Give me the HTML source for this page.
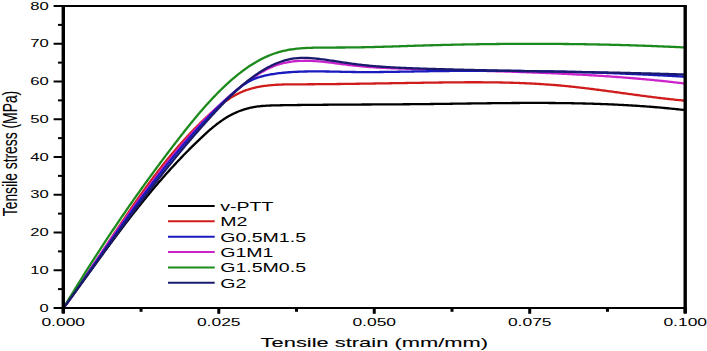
<!DOCTYPE html>
<html><head><meta charset="utf-8"><style>
html,body{margin:0;padding:0;background:#fff;}
svg{display:block;}
text{font-family:"Liberation Sans",sans-serif;fill:#000;stroke:#000;stroke-width:0.1px;}
</style></head><body>
<svg width="707" height="351" viewBox="0 0 707 351">
<rect width="707" height="351" fill="#fff"/>
<path d="M63.50,308.00 L64.36,306.83 L65.22,305.65 L66.09,304.48 L66.94,303.31 L67.80,302.14 L68.66,300.97 L69.51,299.80 L70.37,298.63 L71.22,297.46 L72.07,296.29 L72.92,295.12 L73.77,293.95 L74.62,292.79 L75.47,291.62 L76.31,290.46 L77.16,289.29 L78.00,288.13 L78.85,286.96 L79.69,285.80 L80.53,284.64 L81.37,283.48 L82.21,282.32 L83.05,281.16 L83.89,280.00 L84.73,278.84 L85.57,277.69 L86.41,276.53 L87.24,275.37 L88.08,274.22 L88.92,273.07 L89.75,271.91 L90.59,270.76 L91.42,269.61 L92.26,268.46 L93.09,267.31 L93.93,266.16 L94.76,265.01 L95.59,263.86 L96.43,262.72 L97.26,261.57 L98.09,260.42 L98.93,259.28 L99.76,258.14 L100.60,256.99 L101.43,255.85 L102.26,254.71 L103.10,253.57 L103.93,252.43 L104.77,251.30 L105.60,250.16 L106.44,249.02 L107.27,247.89 L108.11,246.75 L108.94,245.62 L109.78,244.49 L110.62,243.36 L111.45,242.23 L112.29,241.10 L113.13,239.97 L113.97,238.84 L114.81,237.72 L115.65,236.59 L116.49,235.47 L117.33,234.34 L118.18,233.22 L119.02,232.10 L119.86,230.98 L120.71,229.86 L121.56,228.74 L122.40,227.63 L123.25,226.51 L124.10,225.40 L124.95,224.28 L125.80,223.17 L126.66,222.06 L127.51,220.95 L128.36,219.84 L129.22,218.73 L130.08,217.62 L130.94,216.52 L131.80,215.41 L132.66,214.31 L133.52,213.21 L134.39,212.10 L135.25,211.00 L136.12,209.91 L136.99,208.81 L137.86,207.71 L138.73,206.62 L139.61,205.52 L140.48,204.43 L141.36,203.34 L142.24,202.25 L143.12,201.16 L144.00,200.07 L144.89,198.98 L145.78,197.90 L146.66,196.81 L147.56,195.73 L148.45,194.65 L149.34,193.57 L150.24,192.49 L151.14,191.41 L152.04,190.33 L152.94,189.26 L153.85,188.18 L154.76,187.11 L155.67,186.04 L156.58,184.97 L157.50,183.90 L158.41,182.83 L159.33,181.76 L160.25,180.70 L161.18,179.64 L162.11,178.57 L163.04,177.51 L163.97,176.45 L164.90,175.40 L165.84,174.34 L166.78,173.29 L167.73,172.23 L168.67,171.18 L169.62,170.13 L170.57,169.08 L171.53,168.03 L172.49,166.99 L173.45,165.94 L174.41,164.90 L175.38,163.85 L176.35,162.81 L177.32,161.77 L178.30,160.74 L179.28,159.70 L180.26,158.67 L181.24,157.63 L182.23,156.60 L183.23,155.57 L184.22,154.54 L185.22,153.52 L186.22,152.49 L187.23,151.47 L188.24,150.44 L189.25,149.42 L190.27,148.40 L191.29,147.39 L192.31,146.37 L193.34,145.36 L194.37,144.34 L195.41,143.33 L196.45,142.32 L197.49,141.31 L198.54,140.31 L199.59,139.30 L200.64,138.30 L201.70,137.30 L202.76,136.30 L203.83,135.31 L204.90,134.33 L205.98,133.34 L207.06,132.37 L208.15,131.40 L209.24,130.44 L210.34,129.49 L211.45,128.55 L212.56,127.62 L213.68,126.70 L214.80,125.79 L215.93,124.90 L217.07,124.02 L218.22,123.15 L219.37,122.30 L220.53,121.46 L221.70,120.64 L222.87,119.84 L224.06,119.05 L225.25,118.29 L226.45,117.54 L227.66,116.81 L228.88,116.11 L230.10,115.42 L231.34,114.76 L232.59,114.12 L233.84,113.51 L235.11,112.92 L236.38,112.35 L237.66,111.80 L238.95,111.28 L240.25,110.79 L241.56,110.32 L242.88,109.87 L244.20,109.44 L245.54,109.04 L246.88,108.66 L248.22,108.31 L249.58,107.97 L250.94,107.67 L252.31,107.38 L253.68,107.12 L255.06,106.88 L256.45,106.67 L257.84,106.48 L259.24,106.30 L260.64,106.15 L262.05,106.01 L263.46,105.89 L264.88,105.79 L266.29,105.69 L267.72,105.62 L269.14,105.55 L270.57,105.49 L272.00,105.44 L273.43,105.40 L274.86,105.36 L276.30,105.33 L277.73,105.31 L279.16,105.28 L280.60,105.26 L282.03,105.24 L283.47,105.21 L284.90,105.19 L286.34,105.17 L287.77,105.15 L289.20,105.13 L290.64,105.11 L292.07,105.09 L293.50,105.07 L294.93,105.05 L296.37,105.04 L297.80,105.02 L299.23,105.00 L300.66,104.98 L302.10,104.97 L303.53,104.95 L304.96,104.94 L306.39,104.92 L307.82,104.91 L309.25,104.89 L310.69,104.88 L312.12,104.86 L313.55,104.85 L314.98,104.84 L316.41,104.82 L317.84,104.81 L319.27,104.80 L320.70,104.79 L322.13,104.78 L323.56,104.76 L324.99,104.75 L326.42,104.74 L327.85,104.73 L329.28,104.72 L330.71,104.71 L332.14,104.70 L333.56,104.69 L334.99,104.68 L336.42,104.67 L337.85,104.66 L339.28,104.65 L340.71,104.64 L342.14,104.63 L343.57,104.63 L344.99,104.62 L346.42,104.61 L347.85,104.60 L349.28,104.59 L350.71,104.58 L352.13,104.58 L353.56,104.57 L354.99,104.56 L356.42,104.55 L357.84,104.54 L359.27,104.54 L360.70,104.53 L362.13,104.52 L363.55,104.51 L364.98,104.51 L366.41,104.50 L367.84,104.49 L369.26,104.48 L370.69,104.48 L372.12,104.47 L373.54,104.46 L374.97,104.45 L376.40,104.44 L377.83,104.44 L379.25,104.43 L380.68,104.42 L382.11,104.41 L383.53,104.40 L384.96,104.40 L386.39,104.39 L387.81,104.38 L389.24,104.37 L390.67,104.36 L392.09,104.35 L393.52,104.34 L394.95,104.33 L396.37,104.32 L397.80,104.31 L399.23,104.30 L400.65,104.29 L402.08,104.28 L403.51,104.27 L404.93,104.26 L406.36,104.25 L407.79,104.24 L409.21,104.23 L410.64,104.22 L412.07,104.20 L413.49,104.19 L414.92,104.18 L416.35,104.17 L417.77,104.15 L419.20,104.14 L420.63,104.12 L422.06,104.11 L423.48,104.09 L424.91,104.08 L426.34,104.06 L427.76,104.05 L429.19,104.03 L430.62,104.02 L432.05,104.00 L433.47,103.98 L434.90,103.96 L436.33,103.95 L437.76,103.93 L439.18,103.91 L440.61,103.89 L442.04,103.87 L443.47,103.86 L444.89,103.84 L446.32,103.82 L447.75,103.80 L449.18,103.78 L450.60,103.76 L452.03,103.74 L453.46,103.72 L454.89,103.70 L456.32,103.68 L457.74,103.66 L459.17,103.64 L460.60,103.62 L462.03,103.60 L463.45,103.58 L464.88,103.56 L466.31,103.54 L467.74,103.52 L469.17,103.50 L470.60,103.48 L472.02,103.46 L473.45,103.45 L474.88,103.43 L476.31,103.41 L477.74,103.39 L479.16,103.37 L480.59,103.35 L482.02,103.33 L483.45,103.32 L484.88,103.30 L486.31,103.28 L487.73,103.26 L489.16,103.25 L490.59,103.23 L492.02,103.21 L493.45,103.20 L494.87,103.18 L496.30,103.17 L497.73,103.15 L499.16,103.14 L500.59,103.12 L502.02,103.11 L503.44,103.09 L504.87,103.08 L506.30,103.07 L507.73,103.06 L509.16,103.05 L510.59,103.03 L512.01,103.02 L513.44,103.01 L514.87,103.00 L516.30,103.00 L517.73,102.99 L519.15,102.98 L520.58,102.97 L522.01,102.97 L523.44,102.96 L524.87,102.96 L526.29,102.95 L527.72,102.95 L529.15,102.94 L530.58,102.94 L532.01,102.94 L533.43,102.94 L534.86,102.94 L536.29,102.94 L537.72,102.94 L539.15,102.94 L540.57,102.94 L542.00,102.95 L543.43,102.95 L544.86,102.96 L546.28,102.97 L547.71,102.97 L549.14,102.98 L550.57,102.99 L552.00,103.00 L553.42,103.01 L554.85,103.02 L556.28,103.03 L557.71,103.05 L559.13,103.06 L560.56,103.08 L561.99,103.10 L563.41,103.11 L564.84,103.13 L566.27,103.15 L567.70,103.17 L569.12,103.20 L570.55,103.22 L571.98,103.24 L573.40,103.27 L574.83,103.30 L576.26,103.32 L577.68,103.35 L579.11,103.38 L580.54,103.42 L581.96,103.45 L583.39,103.48 L584.82,103.52 L586.24,103.55 L587.67,103.59 L589.10,103.63 L590.52,103.67 L591.95,103.71 L593.38,103.76 L594.80,103.80 L596.23,103.85 L597.65,103.90 L599.08,103.94 L600.51,104.00 L601.93,104.05 L603.36,104.10 L604.78,104.15 L606.21,104.21 L607.63,104.27 L609.06,104.33 L610.48,104.39 L611.91,104.45 L613.33,104.51 L614.76,104.58 L616.18,104.65 L617.61,104.72 L619.03,104.79 L620.46,104.86 L621.88,104.93 L623.31,105.01 L624.73,105.08 L626.16,105.16 L627.58,105.24 L629.01,105.32 L630.43,105.41 L631.85,105.49 L633.28,105.58 L634.70,105.67 L636.13,105.76 L637.55,105.85 L638.97,105.95 L640.40,106.04 L641.82,106.14 L643.24,106.24 L644.67,106.34 L646.09,106.45 L647.51,106.55 L648.94,106.66 L650.36,106.77 L651.78,106.88 L653.21,106.99 L654.63,107.11 L656.05,107.23 L657.47,107.35 L658.90,107.47 L660.32,107.59 L661.74,107.72 L663.16,107.85 L664.58,107.98 L666.01,108.11 L667.43,108.24 L668.85,108.38 L670.27,108.52 L671.69,108.66 L673.11,108.80 L674.53,108.94 L675.96,109.09 L677.38,109.24 L678.80,109.39 L680.22,109.55 L681.64,109.70 L683.06,109.86 L684.01,109.97" stroke="#000000" stroke-width="2.3" fill="none" stroke-linejoin="round"/>
<path d="M63.50,308.00 L64.36,306.82 L65.23,305.65 L66.09,304.48 L66.95,303.30 L67.80,302.12 L68.66,300.94 L69.51,299.76 L70.36,298.58 L71.21,297.39 L72.05,296.21 L72.89,295.02 L73.73,293.84 L74.57,292.65 L75.41,291.46 L76.25,290.27 L77.08,289.08 L77.91,287.89 L78.74,286.70 L79.57,285.50 L80.39,284.31 L81.22,283.11 L82.04,281.91 L82.86,280.72 L83.68,279.52 L84.50,278.32 L85.32,277.12 L86.14,275.92 L86.95,274.72 L87.76,273.52 L88.58,272.32 L89.39,271.11 L90.20,269.91 L91.01,268.71 L91.81,267.50 L92.62,266.30 L93.43,265.09 L94.23,263.89 L95.04,262.68 L95.84,261.47 L96.64,260.27 L97.44,259.06 L98.25,257.85 L99.05,256.65 L99.85,255.44 L100.65,254.23 L101.45,253.02 L102.25,251.81 L103.04,250.61 L103.84,249.40 L104.64,248.19 L105.44,246.98 L106.24,245.77 L107.03,244.57 L107.83,243.36 L108.63,242.15 L109.43,240.94 L110.22,239.74 L111.02,238.53 L111.82,237.32 L112.62,236.12 L113.41,234.91 L114.21,233.70 L115.01,232.50 L115.81,231.29 L116.61,230.09 L117.41,228.88 L118.21,227.68 L119.01,226.48 L119.81,225.27 L120.62,224.07 L121.42,222.87 L122.22,221.67 L123.03,220.47 L123.83,219.27 L124.64,218.07 L125.45,216.87 L126.26,215.67 L127.07,214.48 L127.88,213.28 L128.69,212.09 L129.50,210.89 L130.32,209.70 L131.13,208.51 L131.95,207.31 L132.77,206.12 L133.59,204.94 L134.41,203.75 L135.23,202.56 L136.05,201.37 L136.88,200.19 L137.71,199.01 L138.54,197.82 L139.37,196.64 L140.20,195.46 L141.03,194.28 L141.87,193.11 L142.71,191.93 L143.55,190.76 L144.39,189.58 L145.24,188.41 L146.08,187.24 L146.93,186.07 L147.78,184.91 L148.64,183.74 L149.49,182.58 L150.35,181.42 L151.21,180.26 L152.07,179.10 L152.94,177.94 L153.81,176.78 L154.68,175.63 L155.55,174.48 L156.42,173.33 L157.30,172.18 L158.18,171.03 L159.07,169.89 L159.96,168.75 L160.85,167.61 L161.74,166.47 L162.63,165.33 L163.53,164.20 L164.43,163.07 L165.34,161.94 L166.25,160.81 L167.16,159.68 L168.07,158.56 L168.99,157.44 L169.91,156.32 L170.84,155.20 L171.77,154.09 L172.70,152.98 L173.64,151.87 L174.58,150.76 L175.52,149.66 L176.47,148.55 L177.42,147.45 L178.37,146.36 L179.33,145.26 L180.29,144.17 L181.26,143.08 L182.23,141.99 L183.20,140.91 L184.18,139.83 L185.16,138.75 L186.15,137.67 L187.14,136.60 L188.13,135.53 L189.13,134.46 L190.14,133.40 L191.14,132.34 L192.16,131.28 L193.17,130.22 L194.19,129.17 L195.22,128.12 L196.25,127.08 L197.29,126.03 L198.33,124.99 L199.37,123.95 L200.42,122.92 L201.48,121.89 L202.54,120.86 L203.60,119.84 L204.67,118.82 L205.75,117.80 L206.83,116.79 L207.91,115.78 L209.00,114.77 L210.10,113.77 L211.20,112.78 L212.31,111.80 L213.42,110.82 L214.54,109.85 L215.67,108.90 L216.80,107.95 L217.94,107.01 L219.09,106.09 L220.24,105.17 L221.40,104.27 L222.56,103.39 L223.74,102.52 L224.92,101.66 L226.10,100.82 L227.30,100.00 L228.50,99.19 L229.71,98.41 L230.93,97.64 L232.16,96.89 L233.40,96.16 L234.64,95.46 L235.89,94.77 L237.15,94.11 L238.42,93.48 L239.70,92.86 L240.99,92.27 L242.28,91.71 L243.59,91.17 L244.90,90.67 L246.23,90.18 L247.56,89.72 L248.90,89.29 L250.25,88.88 L251.61,88.50 L252.98,88.13 L254.35,87.79 L255.73,87.47 L257.12,87.17 L258.51,86.89 L259.91,86.63 L261.32,86.39 L262.73,86.17 L264.15,85.96 L265.57,85.77 L267.00,85.59 L268.43,85.43 L269.87,85.29 L271.32,85.15 L272.76,85.04 L274.21,84.93 L275.67,84.83 L277.13,84.75 L278.59,84.67 L280.05,84.61 L281.52,84.55 L282.99,84.51 L284.46,84.46 L285.94,84.43 L287.41,84.40 L288.89,84.38 L290.36,84.36 L291.84,84.35 L293.32,84.34 L294.80,84.33 L296.28,84.32 L297.76,84.32 L299.24,84.31 L300.72,84.30 L302.19,84.30 L303.67,84.29 L305.14,84.28 L306.62,84.28 L308.09,84.27 L309.57,84.26 L311.04,84.25 L312.51,84.24 L313.98,84.23 L315.45,84.22 L316.92,84.21 L318.39,84.20 L319.86,84.19 L321.33,84.17 L322.80,84.16 L324.27,84.15 L325.73,84.13 L327.20,84.12 L328.66,84.11 L330.13,84.09 L331.59,84.08 L333.06,84.06 L334.52,84.05 L335.98,84.03 L337.44,84.01 L338.90,84.00 L340.37,83.98 L341.83,83.96 L343.29,83.94 L344.75,83.93 L346.20,83.91 L347.66,83.89 L349.12,83.87 L350.58,83.85 L352.04,83.83 L353.49,83.81 L354.95,83.79 L356.41,83.77 L357.86,83.75 L359.32,83.73 L360.78,83.71 L362.23,83.69 L363.69,83.67 L365.14,83.65 L366.60,83.63 L368.05,83.60 L369.50,83.58 L370.96,83.56 L372.41,83.54 L373.86,83.52 L375.32,83.49 L376.77,83.47 L378.22,83.45 L379.68,83.43 L381.13,83.40 L382.58,83.38 L384.03,83.36 L385.48,83.34 L386.94,83.31 L388.39,83.29 L389.84,83.27 L391.29,83.24 L392.74,83.22 L394.19,83.20 L395.65,83.17 L397.10,83.15 L398.55,83.13 L400.00,83.10 L401.45,83.08 L402.90,83.06 L404.36,83.03 L405.81,83.01 L407.26,82.99 L408.71,82.97 L410.16,82.94 L411.61,82.92 L413.07,82.90 L414.52,82.88 L415.97,82.85 L417.42,82.83 L418.88,82.81 L420.33,82.79 L421.78,82.76 L423.23,82.74 L424.69,82.72 L426.14,82.70 L427.60,82.68 L429.05,82.66 L430.50,82.64 L431.96,82.62 L433.41,82.60 L434.87,82.58 L436.32,82.56 L437.78,82.54 L439.23,82.52 L440.69,82.50 L442.15,82.48 L443.60,82.46 L445.06,82.44 L446.51,82.43 L447.97,82.41 L449.43,82.40 L450.89,82.38 L452.34,82.37 L453.80,82.35 L455.26,82.34 L456.72,82.33 L458.17,82.32 L459.63,82.31 L461.09,82.30 L462.55,82.29 L464.01,82.28 L465.46,82.27 L466.92,82.27 L468.38,82.26 L469.84,82.26 L471.30,82.26 L472.76,82.26 L474.22,82.26 L475.67,82.26 L477.13,82.26 L478.59,82.26 L480.05,82.27 L481.51,82.27 L482.97,82.28 L484.43,82.29 L485.89,82.30 L487.35,82.31 L488.81,82.33 L490.26,82.34 L491.72,82.36 L493.18,82.38 L494.64,82.39 L496.10,82.42 L497.56,82.44 L499.02,82.46 L500.48,82.49 L501.93,82.52 L503.39,82.55 L504.85,82.58 L506.31,82.62 L507.77,82.65 L509.23,82.69 L510.68,82.73 L512.14,82.77 L513.60,82.82 L515.06,82.86 L516.51,82.91 L517.97,82.96 L519.43,83.01 L520.89,83.07 L522.34,83.13 L523.80,83.18 L525.26,83.25 L526.71,83.31 L528.17,83.38 L529.62,83.45 L531.08,83.52 L532.54,83.59 L533.99,83.67 L535.45,83.75 L536.90,83.83 L538.36,83.91 L539.81,84.00 L541.26,84.09 L542.72,84.18 L544.17,84.28 L545.62,84.38 L547.08,84.48 L548.53,84.58 L549.98,84.69 L551.43,84.80 L552.89,84.91 L554.34,85.02 L555.79,85.14 L557.24,85.26 L558.69,85.39 L560.14,85.52 L561.59,85.65 L563.04,85.78 L564.49,85.92 L565.94,86.06 L567.39,86.20 L568.83,86.35 L570.28,86.50 L571.73,86.65 L573.18,86.80 L574.62,86.96 L576.07,87.12 L577.52,87.28 L578.96,87.44 L580.41,87.61 L581.86,87.77 L583.30,87.94 L584.75,88.12 L586.19,88.29 L587.64,88.46 L589.08,88.64 L590.53,88.82 L591.97,89.00 L593.42,89.18 L594.86,89.37 L596.30,89.55 L597.75,89.74 L599.19,89.93 L600.64,90.12 L602.08,90.31 L603.52,90.50 L604.97,90.69 L606.41,90.88 L607.85,91.08 L609.30,91.27 L610.74,91.47 L612.18,91.66 L613.63,91.86 L615.07,92.05 L616.51,92.25 L617.96,92.45 L619.40,92.65 L620.84,92.85 L622.29,93.04 L623.73,93.24 L625.17,93.44 L626.62,93.64 L628.06,93.84 L629.50,94.03 L630.95,94.23 L632.39,94.43 L633.83,94.62 L635.28,94.82 L636.72,95.01 L638.16,95.21 L639.61,95.40 L641.05,95.60 L642.50,95.79 L643.94,95.98 L645.39,96.17 L646.83,96.36 L648.28,96.54 L649.72,96.73 L651.17,96.92 L652.61,97.10 L654.06,97.28 L655.50,97.46 L656.95,97.64 L658.40,97.82 L659.84,97.99 L661.29,98.17 L662.74,98.34 L664.19,98.51 L665.63,98.67 L667.08,98.84 L668.53,99.00 L669.98,99.16 L671.43,99.32 L672.88,99.48 L674.33,99.63 L675.78,99.78 L677.23,99.93 L678.68,100.08 L680.13,100.22 L681.58,100.36 L683.03,100.50 L684.00,100.58" stroke="#d01c1c" stroke-width="2.3" fill="none" stroke-linejoin="round"/>
<path d="M63.50,308.00 L64.34,306.78 L65.19,305.57 L66.03,304.35 L66.87,303.13 L67.71,301.92 L68.55,300.70 L69.39,299.48 L70.23,298.26 L71.07,297.05 L71.91,295.83 L72.75,294.62 L73.59,293.40 L74.42,292.18 L75.26,290.97 L76.09,289.75 L76.93,288.54 L77.76,287.32 L78.60,286.10 L79.43,284.89 L80.26,283.67 L81.10,282.46 L81.93,281.25 L82.76,280.03 L83.59,278.82 L84.43,277.60 L85.26,276.39 L86.09,275.18 L86.92,273.96 L87.75,272.75 L88.58,271.54 L89.41,270.32 L90.24,269.11 L91.07,267.90 L91.90,266.69 L92.74,265.48 L93.57,264.27 L94.40,263.06 L95.23,261.85 L96.06,260.64 L96.89,259.43 L97.72,258.22 L98.55,257.01 L99.38,255.80 L100.21,254.59 L101.04,253.39 L101.87,252.18 L102.71,250.97 L103.54,249.77 L104.37,248.56 L105.20,247.35 L106.04,246.15 L106.87,244.95 L107.70,243.74 L108.54,242.54 L109.37,241.33 L110.21,240.13 L111.04,238.93 L111.88,237.73 L112.71,236.53 L113.55,235.33 L114.39,234.13 L115.22,232.93 L116.06,231.73 L116.90,230.53 L117.74,229.33 L118.58,228.14 L119.42,226.94 L120.26,225.74 L121.11,224.55 L121.95,223.35 L122.79,222.16 L123.64,220.97 L124.48,219.77 L125.33,218.58 L126.18,217.39 L127.02,216.20 L127.87,215.01 L128.72,213.82 L129.57,212.63 L130.43,211.44 L131.28,210.26 L132.13,209.07 L132.99,207.88 L133.84,206.70 L134.70,205.51 L135.56,204.33 L136.42,203.15 L137.28,201.96 L138.14,200.78 L139.00,199.60 L139.86,198.42 L140.73,197.24 L141.60,196.07 L142.46,194.89 L143.33,193.71 L144.20,192.54 L145.07,191.36 L145.95,190.19 L146.82,189.02 L147.70,187.84 L148.57,186.67 L149.45,185.50 L150.33,184.33 L151.21,183.16 L152.10,182.00 L152.98,180.83 L153.87,179.66 L154.76,178.50 L155.65,177.34 L156.54,176.17 L157.43,175.01 L158.32,173.85 L159.22,172.69 L160.12,171.54 L161.02,170.38 L161.92,169.23 L162.83,168.07 L163.73,166.92 L164.64,165.77 L165.55,164.62 L166.46,163.47 L167.38,162.33 L168.29,161.18 L169.21,160.04 L170.13,158.90 L171.06,157.76 L171.98,156.63 L172.91,155.49 L173.84,154.36 L174.77,153.22 L175.71,152.09 L176.64,150.97 L177.58,149.84 L178.53,148.72 L179.47,147.59 L180.42,146.47 L181.37,145.36 L182.32,144.24 L183.28,143.13 L184.24,142.02 L185.20,140.91 L186.16,139.80 L187.13,138.70 L188.10,137.59 L189.07,136.49 L190.05,135.40 L191.02,134.30 L192.01,133.21 L192.99,132.12 L193.98,131.03 L194.97,129.95 L195.96,128.87 L196.96,127.79 L197.96,126.71 L198.96,125.64 L199.97,124.57 L200.98,123.50 L201.99,122.44 L203.01,121.37 L204.03,120.31 L205.05,119.26 L206.08,118.21 L207.11,117.16 L208.14,116.11 L209.18,115.06 L210.22,114.02 L211.27,112.99 L212.32,111.95 L213.37,110.92 L214.42,109.89 L215.48,108.87 L216.55,107.85 L217.61,106.83 L218.69,105.82 L219.76,104.81 L220.84,103.81 L221.93,102.81 L223.02,101.81 L224.11,100.82 L225.21,99.83 L226.31,98.85 L227.41,97.87 L228.52,96.89 L229.64,95.92 L230.76,94.96 L231.88,94.00 L233.01,93.04 L234.15,92.09 L235.29,91.15 L236.43,90.21 L237.58,89.28 L238.73,88.35 L239.89,87.43 L241.06,86.51 L242.23,85.60 L243.40,84.70 L244.58,83.80 L245.77,82.91 L246.96,82.02 L248.16,81.14 L249.36,80.27 L250.57,79.40 L251.78,78.55 L253.00,77.70 L254.23,76.86 L255.46,76.04 L256.70,75.22 L257.95,74.43 L259.20,73.64 L260.46,72.87 L261.73,72.12 L263.00,71.39 L264.28,70.67 L265.57,69.98 L266.87,69.30 L268.17,68.65 L269.49,68.02 L270.81,67.41 L272.14,66.83 L273.47,66.27 L274.82,65.74 L276.17,65.24 L277.53,64.77 L278.91,64.33 L280.29,63.91 L281.68,63.53 L283.07,63.17 L284.48,62.85 L285.89,62.54 L287.31,62.27 L288.74,62.02 L290.17,61.80 L291.60,61.60 L293.05,61.42 L294.50,61.26 L295.95,61.13 L297.41,61.02 L298.87,60.93 L300.33,60.86 L301.80,60.81 L303.27,60.78 L304.75,60.76 L306.22,60.77 L307.70,60.79 L309.18,60.82 L310.66,60.87 L312.14,60.94 L313.62,61.01 L315.10,61.10 L316.58,61.21 L318.06,61.32 L319.54,61.44 L321.02,61.58 L322.50,61.72 L323.98,61.87 L325.45,62.03 L326.93,62.20 L328.41,62.37 L329.89,62.55 L331.36,62.73 L332.84,62.92 L334.32,63.11 L335.79,63.30 L337.27,63.50 L338.74,63.69 L340.22,63.89 L341.69,64.08 L343.17,64.27 L344.64,64.46 L346.12,64.65 L347.59,64.83 L349.06,65.01 L350.54,65.19 L352.01,65.36 L353.48,65.52 L354.96,65.68 L356.43,65.83 L357.90,65.98 L359.37,66.12 L360.85,66.26 L362.32,66.39 L363.79,66.52 L365.26,66.64 L366.73,66.76 L368.21,66.88 L369.68,66.99 L371.15,67.09 L372.62,67.20 L374.09,67.30 L375.56,67.39 L377.03,67.48 L378.50,67.57 L379.98,67.66 L381.45,67.74 L382.92,67.82 L384.39,67.89 L385.86,67.97 L387.33,68.04 L388.80,68.11 L390.27,68.17 L391.74,68.23 L393.21,68.30 L394.68,68.35 L396.15,68.41 L397.62,68.47 L399.09,68.52 L400.56,68.57 L402.03,68.62 L403.50,68.67 L404.98,68.72 L406.45,68.76 L407.92,68.81 L409.39,68.85 L410.86,68.90 L412.33,68.94 L413.80,68.98 L415.27,69.03 L416.74,69.07 L418.21,69.11 L419.68,69.15 L421.16,69.19 L422.63,69.24 L424.10,69.28 L425.57,69.32 L427.04,69.36 L428.51,69.40 L429.98,69.44 L431.46,69.48 L432.93,69.52 L434.40,69.56 L435.87,69.60 L437.34,69.64 L438.82,69.68 L440.29,69.72 L441.76,69.76 L443.23,69.79 L444.70,69.83 L446.18,69.87 L447.65,69.91 L449.12,69.95 L450.59,69.99 L452.07,70.03 L453.54,70.07 L455.01,70.11 L456.48,70.15 L457.96,70.18 L459.43,70.22 L460.90,70.26 L462.37,70.30 L463.85,70.34 L465.32,70.38 L466.79,70.42 L468.27,70.46 L469.74,70.50 L471.21,70.54 L472.69,70.58 L474.16,70.62 L475.63,70.66 L477.10,70.70 L478.58,70.74 L480.05,70.78 L481.52,70.82 L483.00,70.86 L484.47,70.91 L485.94,70.95 L487.42,70.99 L488.89,71.03 L490.36,71.07 L491.84,71.12 L493.31,71.16 L494.78,71.20 L496.26,71.25 L497.73,71.29 L499.20,71.34 L500.68,71.38 L502.15,71.43 L503.62,71.47 L505.10,71.52 L506.57,71.56 L508.04,71.61 L509.52,71.66 L510.99,71.71 L512.46,71.75 L513.94,71.80 L515.41,71.85 L516.88,71.90 L518.36,71.95 L519.83,72.00 L521.30,72.05 L522.78,72.10 L524.25,72.16 L525.72,72.21 L527.20,72.26 L528.67,72.32 L530.14,72.37 L531.62,72.42 L533.09,72.48 L534.56,72.54 L536.04,72.59 L537.51,72.65 L538.98,72.71 L540.46,72.77 L541.93,72.83 L543.40,72.89 L544.87,72.95 L546.35,73.01 L547.82,73.07 L549.29,73.13 L550.77,73.20 L552.24,73.26 L553.71,73.33 L555.18,73.39 L556.66,73.46 L558.13,73.53 L559.60,73.59 L561.08,73.66 L562.55,73.73 L564.02,73.80 L565.49,73.88 L566.97,73.95 L568.44,74.02 L569.91,74.10 L571.38,74.17 L572.85,74.25 L574.33,74.32 L575.80,74.40 L577.27,74.48 L578.74,74.56 L580.21,74.64 L581.69,74.72 L583.16,74.80 L584.63,74.89 L586.10,74.97 L587.57,75.06 L589.04,75.14 L590.52,75.23 L591.99,75.32 L593.46,75.41 L594.93,75.50 L596.40,75.59 L597.87,75.68 L599.34,75.78 L600.81,75.87 L602.28,75.97 L603.75,76.07 L605.23,76.16 L606.70,76.26 L608.17,76.37 L609.64,76.47 L611.11,76.57 L612.58,76.67 L614.05,76.78 L615.52,76.89 L616.99,76.99 L618.46,77.10 L619.93,77.21 L621.40,77.33 L622.87,77.44 L624.34,77.55 L625.81,77.67 L627.27,77.79 L628.74,77.90 L630.21,78.02 L631.68,78.14 L633.15,78.27 L634.62,78.39 L636.09,78.51 L637.56,78.64 L639.03,78.77 L640.49,78.90 L641.96,79.03 L643.43,79.16 L644.90,79.29 L646.37,79.43 L647.83,79.57 L649.30,79.70 L650.77,79.84 L652.24,79.98 L653.70,80.13 L655.17,80.27 L656.64,80.41 L658.10,80.56 L659.57,80.71 L661.04,80.86 L662.50,81.01 L663.97,81.16 L665.44,81.32 L666.90,81.48 L668.37,81.63 L669.83,81.79 L671.30,81.95 L672.77,82.12 L674.23,82.28 L675.70,82.45 L677.16,82.62 L678.63,82.79 L680.09,82.96 L681.56,83.13 L683.02,83.30 L684.00,83.42" stroke="#cc22cc" stroke-width="2.3" fill="none" stroke-linejoin="round"/>
<path d="M63.50,308.00 L64.36,306.81 L65.22,305.61 L66.08,304.42 L66.94,303.23 L67.80,302.03 L68.65,300.84 L69.51,299.64 L70.36,298.45 L71.22,297.25 L72.07,296.05 L72.92,294.86 L73.77,293.66 L74.62,292.46 L75.47,291.27 L76.32,290.07 L77.16,288.87 L78.01,287.68 L78.85,286.48 L79.70,285.28 L80.54,284.09 L81.39,282.89 L82.23,281.69 L83.07,280.49 L83.91,279.29 L84.75,278.10 L85.59,276.90 L86.43,275.70 L87.27,274.50 L88.11,273.31 L88.95,272.11 L89.78,270.91 L90.62,269.71 L91.46,268.52 L92.29,267.32 L93.13,266.12 L93.96,264.93 L94.80,263.73 L95.63,262.53 L96.47,261.33 L97.30,260.14 L98.14,258.94 L98.97,257.75 L99.81,256.55 L100.64,255.36 L101.48,254.16 L102.31,252.96 L103.14,251.77 L103.98,250.58 L104.81,249.38 L105.65,248.19 L106.48,246.99 L107.31,245.80 L108.15,244.61 L108.98,243.42 L109.82,242.22 L110.65,241.03 L111.49,239.84 L112.32,238.65 L113.16,237.46 L114.00,236.27 L114.83,235.08 L115.67,233.89 L116.51,232.71 L117.34,231.52 L118.18,230.33 L119.02,229.14 L119.86,227.96 L120.70,226.77 L121.54,225.59 L122.38,224.40 L123.22,223.22 L124.06,222.04 L124.91,220.85 L125.75,219.67 L126.59,218.49 L127.44,217.31 L128.28,216.13 L129.13,214.95 L129.98,213.77 L130.82,212.60 L131.67,211.42 L132.52,210.24 L133.37,209.07 L134.23,207.89 L135.08,206.72 L135.93,205.55 L136.79,204.38 L137.64,203.20 L138.50,202.03 L139.36,200.87 L140.22,199.70 L141.08,198.53 L141.94,197.36 L142.80,196.20 L143.66,195.03 L144.53,193.87 L145.40,192.71 L146.26,191.54 L147.13,190.38 L148.00,189.22 L148.87,188.07 L149.75,186.91 L150.62,185.75 L151.50,184.60 L152.38,183.44 L153.26,182.29 L154.14,181.14 L155.02,179.99 L155.90,178.84 L156.79,177.69 L157.67,176.54 L158.56,175.39 L159.45,174.25 L160.35,173.10 L161.24,171.96 L162.14,170.82 L163.03,169.68 L163.93,168.54 L164.83,167.40 L165.74,166.27 L166.64,165.13 L167.55,164.00 L168.46,162.87 L169.37,161.74 L170.28,160.61 L171.20,159.48 L172.12,158.35 L173.04,157.23 L173.96,156.10 L174.88,154.98 L175.81,153.86 L176.73,152.74 L177.66,151.62 L178.60,150.50 L179.53,149.39 L180.47,148.28 L181.41,147.16 L182.35,146.05 L183.29,144.95 L184.24,143.84 L185.19,142.73 L186.14,141.63 L187.10,140.53 L188.05,139.43 L189.01,138.33 L189.97,137.23 L190.94,136.13 L191.90,135.04 L192.87,133.95 L193.85,132.86 L194.82,131.77 L195.80,130.68 L196.78,129.59 L197.76,128.51 L198.75,127.43 L199.74,126.35 L200.73,125.27 L201.72,124.19 L202.72,123.12 L203.72,122.05 L204.72,120.98 L205.73,119.91 L206.74,118.84 L207.75,117.78 L208.77,116.71 L209.79,115.65 L210.81,114.59 L211.83,113.53 L212.86,112.48 L213.89,111.43 L214.93,110.37 L215.96,109.33 L217.01,108.28 L218.05,107.24 L219.10,106.20 L220.16,105.16 L221.21,104.13 L222.28,103.10 L223.34,102.07 L224.41,101.05 L225.49,100.04 L226.57,99.02 L227.66,98.02 L228.75,97.02 L229.85,96.02 L230.95,95.03 L232.06,94.04 L233.17,93.06 L234.29,92.09 L235.42,91.12 L236.56,90.17 L237.70,89.23 L238.85,88.31 L240.02,87.40 L241.19,86.52 L242.37,85.66 L243.57,84.82 L244.78,84.01 L246.00,83.22 L247.23,82.47 L248.48,81.75 L249.75,81.07 L251.03,80.42 L252.32,79.81 L253.63,79.23 L254.96,78.68 L256.29,78.17 L257.64,77.69 L259.00,77.23 L260.37,76.80 L261.75,76.40 L263.15,76.03 L264.54,75.68 L265.95,75.35 L267.37,75.05 L268.79,74.76 L270.22,74.49 L271.65,74.25 L273.09,74.02 L274.53,73.80 L275.98,73.60 L277.43,73.41 L278.88,73.23 L280.33,73.07 L281.78,72.91 L283.24,72.76 L284.69,72.62 L286.15,72.49 L287.61,72.37 L289.06,72.26 L290.52,72.16 L291.98,72.06 L293.44,71.97 L294.90,71.89 L296.36,71.82 L297.82,71.75 L299.29,71.69 L300.75,71.63 L302.21,71.59 L303.68,71.54 L305.14,71.51 L306.61,71.48 L308.07,71.45 L309.54,71.43 L311.00,71.42 L312.47,71.41 L313.94,71.40 L315.41,71.40 L316.87,71.40 L318.34,71.40 L319.81,71.41 L321.28,71.42 L322.75,71.44 L324.22,71.46 L325.69,71.48 L327.16,71.50 L328.63,71.52 L330.10,71.55 L331.57,71.57 L333.04,71.60 L334.51,71.63 L335.98,71.66 L337.45,71.69 L338.92,71.72 L340.39,71.76 L341.86,71.79 L343.33,71.82 L344.80,71.85 L346.27,71.88 L347.74,71.91 L349.21,71.93 L350.67,71.96 L352.14,71.98 L353.61,72.00 L355.08,72.02 L356.55,72.04 L358.02,72.05 L359.48,72.07 L360.95,72.08 L362.42,72.08 L363.88,72.09 L365.35,72.09 L366.82,72.09 L368.28,72.09 L369.75,72.09 L371.21,72.08 L372.68,72.08 L374.14,72.07 L375.61,72.06 L377.07,72.05 L378.54,72.04 L380.00,72.02 L381.47,72.01 L382.93,71.99 L384.39,71.97 L385.86,71.96 L387.32,71.94 L388.78,71.92 L390.25,71.89 L391.71,71.87 L393.17,71.85 L394.64,71.82 L396.10,71.80 L397.56,71.77 L399.03,71.75 L400.49,71.72 L401.95,71.70 L403.41,71.67 L404.88,71.64 L406.34,71.61 L407.80,71.59 L409.26,71.56 L410.73,71.53 L412.19,71.51 L413.65,71.48 L415.11,71.45 L416.58,71.43 L418.04,71.40 L419.50,71.38 L420.96,71.35 L422.43,71.33 L423.89,71.30 L425.35,71.28 L426.82,71.26 L428.28,71.23 L429.74,71.21 L431.21,71.19 L432.67,71.17 L434.13,71.15 L435.60,71.13 L437.06,71.11 L438.52,71.10 L439.99,71.08 L441.45,71.06 L442.91,71.05 L444.38,71.03 L445.84,71.02 L447.31,71.00 L448.77,70.99 L450.23,70.97 L451.70,70.96 L453.16,70.95 L454.63,70.94 L456.09,70.93 L457.55,70.91 L459.02,70.90 L460.48,70.90 L461.95,70.89 L463.41,70.88 L464.88,70.87 L466.34,70.86 L467.80,70.86 L469.27,70.85 L470.73,70.85 L472.20,70.84 L473.66,70.84 L475.13,70.83 L476.59,70.83 L478.06,70.83 L479.52,70.83 L480.99,70.83 L482.45,70.83 L483.92,70.83 L485.38,70.83 L486.85,70.83 L488.31,70.83 L489.78,70.83 L491.24,70.83 L492.71,70.84 L494.17,70.84 L495.64,70.85 L497.10,70.85 L498.57,70.86 L500.03,70.86 L501.50,70.87 L502.96,70.88 L504.43,70.89 L505.89,70.90 L507.36,70.91 L508.82,70.92 L510.29,70.93 L511.75,70.94 L513.22,70.95 L514.68,70.96 L516.15,70.98 L517.61,70.99 L519.08,71.00 L520.54,71.02 L522.01,71.04 L523.47,71.05 L524.94,71.07 L526.40,71.09 L527.87,71.10 L529.33,71.12 L530.80,71.14 L532.26,71.16 L533.73,71.18 L535.20,71.20 L536.66,71.22 L538.13,71.25 L539.59,71.27 L541.06,71.29 L542.52,71.32 L543.99,71.34 L545.45,71.37 L546.92,71.39 L548.38,71.42 L549.85,71.45 L551.31,71.48 L552.78,71.50 L554.24,71.53 L555.71,71.56 L557.17,71.59 L558.64,71.62 L560.10,71.66 L561.57,71.69 L563.03,71.72 L564.50,71.75 L565.96,71.79 L567.43,71.82 L568.89,71.86 L570.36,71.90 L571.82,71.93 L573.29,71.97 L574.75,72.01 L576.22,72.05 L577.68,72.08 L579.15,72.12 L580.61,72.16 L582.08,72.21 L583.54,72.25 L585.01,72.29 L586.47,72.33 L587.94,72.38 L589.40,72.42 L590.86,72.47 L592.33,72.51 L593.79,72.56 L595.26,72.60 L596.72,72.65 L598.19,72.70 L599.65,72.75 L601.12,72.80 L602.58,72.85 L604.04,72.90 L605.51,72.95 L606.97,73.00 L608.44,73.05 L609.90,73.11 L611.36,73.16 L612.83,73.21 L614.29,73.27 L615.76,73.33 L617.22,73.38 L618.68,73.44 L620.15,73.50 L621.61,73.56 L623.07,73.61 L624.54,73.67 L626.00,73.73 L627.46,73.80 L628.93,73.86 L630.39,73.92 L631.85,73.98 L633.32,74.05 L634.78,74.11 L636.24,74.17 L637.71,74.24 L639.17,74.31 L640.63,74.37 L642.10,74.44 L643.56,74.51 L645.02,74.58 L646.48,74.65 L647.95,74.72 L649.41,74.79 L650.87,74.86 L652.33,74.93 L653.80,75.00 L655.26,75.08 L656.72,75.15 L658.18,75.23 L659.64,75.30 L661.11,75.38 L662.57,75.46 L664.03,75.53 L665.49,75.61 L666.95,75.69 L668.41,75.77 L669.88,75.85 L671.34,75.93 L672.80,76.01 L674.26,76.09 L675.72,76.18 L677.18,76.26 L678.64,76.34 L680.10,76.43 L681.56,76.52 L683.03,76.60 L684.00,76.66" stroke="#1a1abf" stroke-width="2.3" fill="none" stroke-linejoin="round"/>
<path d="M63.50,308.00 L64.02,307.14 L64.53,306.28 L65.05,305.43 L65.56,304.57 L66.08,303.71 L66.60,302.85 L67.12,302.00 L67.63,301.14 L68.15,300.29 L68.67,299.43 L69.45,298.15 L70.23,296.87 L71.01,295.59 L71.79,294.31 L72.57,293.03 L73.35,291.75 L74.13,290.48 L74.92,289.20 L75.70,287.93 L76.49,286.65 L77.28,285.38 L78.06,284.11 L78.85,282.84 L79.64,281.57 L80.43,280.30 L81.22,279.03 L82.01,277.76 L82.80,276.49 L83.60,275.23 L84.39,273.96 L85.18,272.70 L85.98,271.44 L86.78,270.18 L87.57,268.91 L88.37,267.65 L89.17,266.39 L89.97,265.14 L90.77,263.88 L91.57,262.62 L92.37,261.37 L93.18,260.11 L93.98,258.86 L94.79,257.60 L95.59,256.35 L96.40,255.10 L97.21,253.85 L98.02,252.60 L98.83,251.35 L99.64,250.10 L100.45,248.85 L101.26,247.61 L102.08,246.36 L102.89,245.12 L103.71,243.87 L104.52,242.63 L105.34,241.39 L106.16,240.15 L106.98,238.90 L107.80,237.66 L108.62,236.43 L109.44,235.19 L110.27,233.95 L111.09,232.71 L111.91,231.48 L112.74,230.24 L113.57,229.01 L114.40,227.78 L115.23,226.54 L116.06,225.31 L116.89,224.08 L117.72,222.85 L118.55,221.62 L119.39,220.39 L120.22,219.16 L121.06,217.94 L121.90,216.71 L122.74,215.48 L123.58,214.26 L124.42,213.04 L125.26,211.81 L126.10,210.59 L126.94,209.37 L127.79,208.15 L128.64,206.93 L129.48,205.71 L130.33,204.49 L131.18,203.27 L132.03,202.06 L132.88,200.84 L133.73,199.62 L134.59,198.41 L135.44,197.20 L136.30,195.98 L137.16,194.77 L138.01,193.56 L138.87,192.35 L139.73,191.14 L140.60,189.93 L141.46,188.72 L142.32,187.51 L143.19,186.30 L144.05,185.10 L144.92,183.89 L145.79,182.68 L146.66,181.48 L147.53,180.28 L148.40,179.07 L149.28,177.87 L150.15,176.67 L151.03,175.47 L151.90,174.27 L152.78,173.07 L153.66,171.87 L154.54,170.67 L155.42,169.47 L156.30,168.28 L157.19,167.08 L158.07,165.88 L158.96,164.69 L159.85,163.50 L160.74,162.30 L161.63,161.11 L162.52,159.92 L163.41,158.73 L164.31,157.54 L165.20,156.35 L166.10,155.16 L166.99,153.97 L167.89,152.78 L168.79,151.59 L169.70,150.41 L170.60,149.22 L171.50,148.03 L172.41,146.85 L173.31,145.67 L174.22,144.48 L175.13,143.30 L176.04,142.12 L176.95,140.94 L177.87,139.75 L178.78,138.57 L179.70,137.39 L180.62,136.22 L181.53,135.04 L182.46,133.86 L183.38,132.69 L184.30,131.51 L185.23,130.34 L186.16,129.17 L187.09,128.00 L188.02,126.83 L188.96,125.66 L189.90,124.50 L190.84,123.34 L191.78,122.18 L192.73,121.02 L193.68,119.86 L194.63,118.71 L195.59,117.56 L196.55,116.41 L197.51,115.26 L198.48,114.12 L199.45,112.98 L200.42,111.84 L201.40,110.71 L202.38,109.58 L203.37,108.45 L204.36,107.33 L205.35,106.20 L206.35,105.09 L207.35,103.97 L208.36,102.86 L209.37,101.76 L210.38,100.66 L211.41,99.56 L212.43,98.46 L213.46,97.38 L214.15,96.65 L214.84,95.93 L215.54,95.21 L216.24,94.49 L216.94,93.78 L217.64,93.06 L218.34,92.35 L219.05,91.64 L219.76,90.93 L220.47,90.23 L221.18,89.53 L221.90,88.83 L222.62,88.13 L223.34,87.43 L224.07,86.74 L224.80,86.05 L225.53,85.36 L226.26,84.68 L227.00,84.00 L227.73,83.32 L228.47,82.64 L229.22,81.97 L229.97,81.30 L230.71,80.64 L231.47,79.98 L232.22,79.32 L232.98,78.67 L233.74,78.02 L234.89,77.05 L236.04,76.09 L237.20,75.15 L238.36,74.21 L239.54,73.28 L240.72,72.37 L241.90,71.47 L243.09,70.58 L244.29,69.70 L245.50,68.83 L246.71,67.98 L247.93,67.14 L249.15,66.31 L250.39,65.50 L251.63,64.70 L252.88,63.92 L254.13,63.15 L255.39,62.40 L256.66,61.67 L257.94,60.95 L259.22,60.25 L260.51,59.56 L261.81,58.89 L263.11,58.24 L264.42,57.61 L265.74,56.99 L267.07,56.40 L268.41,55.82 L269.75,55.27 L271.10,54.73 L272.46,54.22 L273.82,53.72 L275.20,53.25 L276.58,52.80 L277.97,52.37 L279.37,51.96 L280.77,51.57 L282.19,51.21 L283.61,50.87 L285.04,50.56 L286.47,50.26 L287.92,49.99 L289.37,49.73 L290.82,49.50 L292.28,49.28 L293.75,49.08 L295.23,48.90 L296.70,48.73 L298.19,48.58 L299.68,48.44 L301.17,48.32 L302.66,48.21 L303.66,48.14 L304.66,48.08 L305.67,48.02 L306.67,47.97 L307.68,47.93 L308.68,47.88 L309.69,47.84 L310.70,47.81 L311.70,47.78 L312.71,47.75 L313.72,47.72 L314.73,47.70 L315.74,47.68 L316.75,47.66 L317.77,47.65 L318.78,47.64 L319.79,47.62 L320.80,47.61 L321.81,47.61 L322.82,47.60 L323.83,47.59 L324.84,47.58 L325.85,47.58 L326.86,47.57 L327.87,47.57 L328.88,47.56 L329.89,47.56 L330.89,47.55 L331.90,47.55 L332.91,47.54 L333.91,47.54 L334.92,47.53 L335.92,47.53 L336.93,47.52 L337.93,47.52 L338.93,47.51 L339.94,47.51 L340.94,47.50 L341.94,47.50 L342.95,47.49 L343.95,47.48 L344.95,47.48 L345.95,47.47 L346.95,47.46 L347.95,47.45 L348.95,47.45 L350.45,47.43 L351.95,47.42 L353.45,47.40 L354.95,47.38 L356.44,47.36 L357.94,47.34 L359.44,47.32 L360.93,47.29 L362.43,47.26 L363.92,47.24 L365.42,47.21 L366.91,47.17 L368.40,47.14 L369.89,47.11 L371.39,47.07 L372.88,47.04 L374.37,47.00 L375.86,46.96 L377.35,46.92 L378.84,46.88 L380.33,46.84 L381.82,46.80 L383.31,46.75 L384.80,46.71 L386.29,46.67 L387.78,46.62 L389.27,46.58 L390.76,46.53 L392.24,46.48 L393.73,46.44 L395.22,46.39 L396.71,46.34 L398.19,46.29 L399.68,46.24 L401.17,46.20 L402.66,46.15 L404.14,46.10 L405.63,46.05 L407.12,46.00 L408.61,45.95 L410.09,45.90 L411.58,45.86 L413.07,45.81 L414.55,45.76 L416.04,45.71 L417.53,45.67 L419.02,45.62 L420.50,45.57 L421.99,45.53 L423.48,45.48 L424.97,45.44 L426.45,45.40 L427.94,45.35 L429.43,45.31 L430.92,45.27 L432.41,45.23 L433.90,45.19 L435.39,45.15 L436.87,45.11 L438.36,45.07 L439.85,45.03 L441.34,44.99 L442.83,44.95 L444.32,44.92 L445.81,44.88 L447.30,44.85 L448.79,44.81 L450.28,44.78 L451.77,44.74 L453.26,44.71 L454.75,44.68 L456.24,44.65 L457.73,44.62 L459.22,44.58 L460.71,44.55 L462.20,44.52 L463.69,44.50 L465.18,44.47 L466.67,44.44 L468.16,44.41 L469.66,44.39 L471.15,44.36 L472.64,44.33 L474.13,44.31 L475.62,44.29 L477.11,44.26 L478.60,44.24 L480.10,44.22 L481.59,44.20 L483.08,44.17 L484.57,44.15 L486.06,44.13 L487.55,44.12 L489.05,44.10 L490.54,44.08 L492.03,44.06 L493.52,44.04 L495.01,44.03 L496.51,44.01 L498.00,44.00 L499.49,43.98 L500.98,43.97 L502.48,43.96 L503.97,43.95 L505.46,43.93 L506.95,43.92 L508.45,43.91 L509.94,43.90 L511.43,43.89 L512.92,43.88 L514.42,43.88 L515.91,43.87 L517.40,43.86 L518.90,43.86 L520.39,43.85 L521.88,43.85 L523.37,43.84 L524.87,43.84 L526.36,43.84 L527.85,43.83 L529.35,43.83 L530.84,43.83 L532.33,43.83 L533.83,43.83 L535.32,43.83 L536.81,43.84 L538.31,43.84 L539.80,43.84 L541.29,43.84 L542.79,43.85 L544.28,43.85 L545.77,43.86 L547.27,43.87 L548.76,43.87 L550.25,43.88 L551.75,43.89 L553.24,43.90 L554.73,43.91 L556.23,43.92 L557.72,43.93 L559.21,43.94 L560.71,43.95 L562.20,43.97 L563.69,43.98 L565.19,43.99 L566.68,44.01 L568.17,44.02 L569.67,44.04 L571.16,44.06 L572.65,44.08 L574.15,44.09 L575.64,44.11 L577.13,44.13 L578.62,44.15 L580.12,44.18 L581.61,44.20 L583.10,44.22 L584.60,44.24 L586.09,44.27 L587.58,44.29 L589.08,44.32 L590.57,44.34 L592.06,44.37 L593.55,44.40 L595.05,44.42 L596.54,44.45 L598.03,44.48 L599.53,44.51 L601.02,44.54 L602.51,44.58 L604.00,44.61 L605.50,44.64 L606.99,44.67 L608.48,44.71 L609.97,44.74 L611.46,44.78 L612.96,44.82 L614.45,44.85 L615.94,44.89 L617.43,44.93 L618.93,44.97 L620.42,45.01 L621.91,45.05 L623.40,45.09 L624.89,45.13 L626.38,45.18 L627.88,45.22 L629.37,45.27 L630.86,45.31 L632.35,45.36 L633.84,45.40 L635.33,45.45 L636.82,45.50 L638.31,45.55 L639.81,45.60 L641.30,45.65 L642.79,45.70 L644.28,45.75 L645.77,45.80 L647.26,45.86 L648.75,45.91 L650.24,45.96 L651.73,46.02 L653.22,46.07 L654.71,46.13 L656.20,46.19 L657.69,46.25 L659.18,46.31 L660.67,46.37 L662.16,46.43 L663.65,46.49 L665.14,46.55 L666.63,46.61 L668.12,46.68 L669.61,46.74 L671.10,46.81 L672.58,46.87 L674.07,46.94 L675.56,47.01 L677.05,47.07 L678.54,47.14 L680.03,47.21 L681.51,47.28 L683.00,47.35 L683.99,47.40" stroke="#1c8a1c" stroke-width="2.3" fill="none" stroke-linejoin="round"/>
<path d="M63.50,308.00 L64.38,306.79 L65.27,305.59 L66.15,304.38 L67.03,303.17 L67.90,301.97 L68.78,300.76 L69.66,299.55 L70.53,298.35 L71.41,297.14 L72.28,295.94 L73.16,294.73 L74.03,293.53 L74.90,292.33 L75.77,291.12 L76.64,289.92 L77.51,288.72 L78.38,287.52 L79.25,286.32 L80.11,285.11 L80.98,283.91 L81.85,282.71 L82.71,281.51 L83.58,280.32 L84.44,279.12 L85.31,277.92 L86.17,276.72 L87.03,275.52 L87.89,274.33 L88.76,273.13 L89.62,271.93 L90.48,270.74 L91.34,269.54 L92.20,268.35 L93.06,267.15 L93.92,265.96 L94.78,264.77 L95.64,263.58 L96.50,262.38 L97.36,261.19 L98.21,260.00 L99.07,258.81 L99.93,257.62 L100.79,256.43 L101.65,255.24 L102.50,254.05 L103.36,252.87 L104.22,251.68 L105.08,250.49 L105.93,249.31 L106.79,248.12 L107.65,246.94 L108.51,245.75 L109.36,244.57 L110.22,243.38 L111.08,242.20 L111.94,241.02 L112.80,239.84 L113.65,238.66 L114.51,237.47 L115.37,236.29 L116.23,235.12 L117.09,233.94 L117.95,232.76 L118.81,231.58 L119.67,230.40 L120.53,229.23 L121.39,228.05 L122.25,226.88 L123.11,225.70 L123.98,224.53 L124.84,223.35 L125.70,222.18 L126.57,221.01 L127.43,219.84 L128.29,218.67 L129.16,217.50 L130.03,216.33 L130.89,215.16 L131.76,213.99 L132.63,212.82 L133.50,211.66 L134.37,210.49 L135.24,209.33 L136.11,208.16 L136.98,207.00 L137.85,205.83 L138.72,204.67 L139.60,203.51 L140.47,202.35 L141.35,201.19 L142.22,200.03 L143.10,198.87 L143.98,197.71 L144.86,196.55 L145.74,195.39 L146.62,194.24 L147.50,193.08 L148.38,191.93 L149.27,190.77 L150.15,189.62 L151.04,188.47 L151.93,187.32 L152.82,186.16 L153.71,185.01 L154.60,183.86 L155.49,182.72 L156.38,181.57 L157.28,180.42 L158.18,179.27 L159.07,178.13 L159.97,176.98 L160.87,175.84 L161.77,174.70 L162.68,173.55 L163.58,172.41 L164.49,171.27 L165.39,170.13 L166.30,168.99 L167.21,167.85 L168.12,166.71 L169.04,165.58 L169.95,164.44 L170.87,163.30 L171.79,162.17 L172.71,161.04 L173.63,159.90 L174.55,158.77 L175.47,157.64 L176.40,156.51 L177.33,155.38 L178.26,154.25 L179.19,153.12 L180.12,152.00 L181.06,150.87 L182.00,149.75 L182.93,148.62 L183.87,147.50 L184.82,146.38 L185.76,145.25 L186.71,144.13 L187.66,143.01 L188.61,141.90 L189.56,140.78 L190.51,139.66 L191.47,138.54 L192.43,137.43 L193.39,136.31 L194.35,135.20 L195.32,134.09 L196.29,132.98 L197.26,131.87 L198.23,130.76 L199.20,129.65 L200.18,128.54 L201.16,127.43 L202.14,126.33 L203.12,125.22 L204.10,124.12 L205.09,123.01 L206.08,121.91 L207.07,120.81 L208.07,119.71 L209.07,118.61 L210.07,117.51 L211.07,116.42 L212.07,115.32 L213.08,114.23 L214.09,113.13 L215.10,112.04 L216.12,110.95 L217.14,109.86 L218.16,108.77 L219.18,107.68 L220.21,106.60 L221.24,105.51 L222.27,104.44 L223.31,103.36 L224.35,102.29 L225.40,101.22 L226.45,100.16 L227.50,99.10 L228.56,98.05 L229.62,97.00 L230.69,95.96 L231.76,94.92 L232.84,93.89 L233.92,92.86 L235.00,91.85 L236.10,90.84 L237.19,89.83 L238.30,88.84 L239.41,87.85 L240.52,86.87 L241.64,85.90 L242.77,84.94 L243.90,83.99 L245.04,83.04 L246.19,82.11 L247.34,81.19 L248.50,80.27 L249.67,79.37 L250.84,78.48 L252.02,77.60 L253.21,76.74 L254.41,75.88 L255.61,75.04 L256.82,74.21 L258.04,73.39 L259.27,72.58 L260.51,71.79 L261.75,71.02 L263.00,70.25 L264.26,69.50 L265.53,68.77 L266.81,68.05 L268.10,67.35 L269.39,66.67 L270.70,66.01 L272.01,65.37 L273.33,64.74 L274.66,64.14 L275.99,63.56 L277.34,63.01 L278.69,62.48 L280.05,61.97 L281.41,61.49 L282.79,61.04 L284.17,60.61 L285.56,60.21 L286.95,59.85 L288.36,59.51 L289.77,59.20 L291.18,58.93 L292.61,58.69 L294.04,58.48 L295.48,58.31 L296.92,58.17 L298.37,58.06 L299.82,57.97 L301.28,57.92 L302.75,57.89 L304.22,57.89 L305.69,57.91 L307.16,57.95 L308.64,58.01 L310.12,58.09 L311.61,58.19 L313.09,58.31 L314.58,58.44 L316.06,58.59 L317.55,58.75 L319.04,58.92 L320.52,59.10 L322.01,59.29 L323.50,59.48 L324.98,59.69 L326.46,59.89 L327.94,60.10 L329.42,60.32 L330.89,60.53 L332.37,60.75 L333.84,60.97 L335.32,61.20 L336.79,61.42 L338.26,61.64 L339.73,61.87 L341.19,62.09 L342.66,62.31 L344.13,62.53 L345.60,62.75 L347.06,62.97 L348.53,63.18 L349.99,63.39 L351.46,63.60 L352.92,63.80 L354.39,63.99 L355.85,64.18 L357.32,64.37 L358.79,64.54 L360.25,64.72 L361.72,64.89 L363.19,65.05 L364.65,65.20 L366.12,65.36 L367.59,65.50 L369.06,65.65 L370.53,65.78 L371.99,65.92 L373.46,66.05 L374.93,66.17 L376.40,66.29 L377.87,66.41 L379.34,66.52 L380.81,66.63 L382.28,66.73 L383.75,66.83 L385.22,66.93 L386.69,67.03 L388.16,67.12 L389.63,67.20 L391.10,67.29 L392.57,67.37 L394.04,67.45 L395.52,67.53 L396.99,67.60 L398.46,67.67 L399.93,67.74 L401.40,67.81 L402.87,67.87 L404.35,67.94 L405.82,68.00 L407.29,68.06 L408.76,68.12 L410.23,68.17 L411.71,68.23 L413.18,68.28 L414.65,68.33 L416.12,68.39 L417.60,68.44 L419.07,68.49 L420.54,68.54 L422.02,68.59 L423.49,68.63 L424.96,68.68 L426.44,68.73 L427.91,68.78 L429.38,68.82 L430.85,68.87 L432.33,68.91 L433.80,68.96 L435.27,69.00 L436.75,69.05 L438.22,69.09 L439.70,69.13 L441.17,69.18 L442.64,69.22 L444.12,69.26 L445.59,69.30 L447.06,69.34 L448.54,69.38 L450.01,69.42 L451.48,69.46 L452.96,69.50 L454.43,69.54 L455.91,69.58 L457.38,69.62 L458.85,69.65 L460.33,69.69 L461.80,69.73 L463.28,69.76 L464.75,69.80 L466.22,69.84 L467.70,69.87 L469.17,69.91 L470.65,69.94 L472.12,69.97 L473.60,70.01 L475.07,70.04 L476.54,70.07 L478.02,70.11 L479.49,70.14 L480.97,70.17 L482.44,70.20 L483.92,70.24 L485.39,70.27 L486.87,70.30 L488.34,70.33 L489.82,70.36 L491.29,70.39 L492.77,70.42 L494.24,70.45 L495.71,70.48 L497.19,70.51 L498.66,70.54 L500.14,70.57 L501.61,70.60 L503.09,70.63 L504.56,70.65 L506.04,70.68 L507.51,70.71 L508.99,70.74 L510.46,70.77 L511.94,70.79 L513.41,70.82 L514.89,70.85 L516.36,70.88 L517.84,70.90 L519.31,70.93 L520.79,70.96 L522.26,70.98 L523.74,71.01 L525.21,71.04 L526.69,71.06 L528.16,71.09 L529.64,71.11 L531.11,71.14 L532.59,71.17 L534.06,71.19 L535.54,71.22 L537.02,71.24 L538.49,71.27 L539.97,71.29 L541.44,71.32 L542.92,71.34 L544.39,71.37 L545.87,71.39 L547.34,71.42 L548.82,71.45 L550.29,71.47 L551.77,71.50 L553.24,71.52 L554.72,71.55 L556.19,71.57 L557.67,71.60 L559.14,71.62 L560.62,71.65 L562.09,71.67 L563.57,71.70 L565.05,71.72 L566.52,71.75 L568.00,71.78 L569.47,71.80 L570.95,71.83 L572.42,71.85 L573.90,71.88 L575.37,71.91 L576.85,71.93 L578.32,71.96 L579.80,71.98 L581.27,72.01 L582.75,72.04 L584.22,72.06 L585.70,72.09 L587.17,72.12 L588.65,72.15 L590.12,72.17 L591.60,72.20 L593.07,72.23 L594.55,72.26 L596.02,72.29 L597.50,72.31 L598.97,72.34 L600.45,72.37 L601.92,72.40 L603.40,72.43 L604.87,72.46 L606.35,72.49 L607.82,72.52 L609.30,72.55 L610.77,72.58 L612.25,72.61 L613.72,72.64 L615.20,72.67 L616.67,72.70 L618.15,72.73 L619.62,72.77 L621.10,72.80 L622.57,72.83 L624.05,72.86 L625.52,72.90 L627.00,72.93 L628.47,72.96 L629.95,73.00 L631.42,73.03 L632.90,73.07 L634.37,73.10 L635.85,73.14 L637.32,73.17 L638.80,73.21 L640.27,73.25 L641.74,73.28 L643.22,73.32 L644.69,73.36 L646.17,73.40 L647.64,73.43 L649.12,73.47 L650.59,73.51 L652.06,73.55 L653.54,73.59 L655.01,73.63 L656.49,73.67 L657.96,73.71 L659.44,73.76 L660.91,73.80 L662.38,73.84 L663.86,73.88 L665.33,73.93 L666.81,73.97 L668.28,74.02 L669.75,74.06 L671.23,74.11 L672.70,74.15 L674.17,74.20 L675.65,74.25 L677.12,74.30 L678.59,74.34 L680.07,74.39 L681.54,74.44 L683.02,74.49 L684.00,74.53" stroke="#1a1a6e" stroke-width="2.3" fill="none" stroke-linejoin="round"/>
<line x1="63.3" y1="6.0" x2="685.2" y2="6.0" stroke="#000" stroke-width="2.2"/>
<line x1="61.699999999999996" y1="308.0" x2="686.8000000000001" y2="308.0" stroke="#000" stroke-width="2"/>
<line x1="63.3" y1="4.9" x2="63.3" y2="313.0" stroke="#000" stroke-width="3.4"/>
<line x1="685.2" y1="4.9" x2="685.2" y2="313.0" stroke="#000" stroke-width="3.4"/>
<line x1="53.6" y1="308.00" x2="63.3" y2="308.00" stroke="#000" stroke-width="2"/>
<line x1="58" y1="289.12" x2="63.3" y2="289.12" stroke="#000" stroke-width="2"/>
<line x1="53.6" y1="270.25" x2="63.3" y2="270.25" stroke="#000" stroke-width="2"/>
<line x1="58" y1="251.38" x2="63.3" y2="251.38" stroke="#000" stroke-width="2"/>
<line x1="53.6" y1="232.50" x2="63.3" y2="232.50" stroke="#000" stroke-width="2"/>
<line x1="58" y1="213.62" x2="63.3" y2="213.62" stroke="#000" stroke-width="2"/>
<line x1="53.6" y1="194.75" x2="63.3" y2="194.75" stroke="#000" stroke-width="2"/>
<line x1="58" y1="175.88" x2="63.3" y2="175.88" stroke="#000" stroke-width="2"/>
<line x1="53.6" y1="157.00" x2="63.3" y2="157.00" stroke="#000" stroke-width="2"/>
<line x1="58" y1="138.12" x2="63.3" y2="138.12" stroke="#000" stroke-width="2"/>
<line x1="53.6" y1="119.25" x2="63.3" y2="119.25" stroke="#000" stroke-width="2"/>
<line x1="58" y1="100.38" x2="63.3" y2="100.38" stroke="#000" stroke-width="2"/>
<line x1="53.6" y1="81.50" x2="63.3" y2="81.50" stroke="#000" stroke-width="2"/>
<line x1="58" y1="62.62" x2="63.3" y2="62.62" stroke="#000" stroke-width="2"/>
<line x1="53.6" y1="43.75" x2="63.3" y2="43.75" stroke="#000" stroke-width="2"/>
<line x1="58" y1="24.88" x2="63.3" y2="24.88" stroke="#000" stroke-width="2"/>
<line x1="53.6" y1="6.00" x2="63.3" y2="6.00" stroke="#000" stroke-width="2"/>
<line x1="63.30" y1="308.0" x2="63.30" y2="313.8" stroke="#000" stroke-width="3"/>
<line x1="141.04" y1="308.0" x2="141.04" y2="311.8" stroke="#000" stroke-width="3"/>
<line x1="218.78" y1="308.0" x2="218.78" y2="313.8" stroke="#000" stroke-width="3"/>
<line x1="296.51" y1="308.0" x2="296.51" y2="311.8" stroke="#000" stroke-width="3"/>
<line x1="374.25" y1="308.0" x2="374.25" y2="313.8" stroke="#000" stroke-width="3"/>
<line x1="451.99" y1="308.0" x2="451.99" y2="311.8" stroke="#000" stroke-width="3"/>
<line x1="529.73" y1="308.0" x2="529.73" y2="313.8" stroke="#000" stroke-width="3"/>
<line x1="607.46" y1="308.0" x2="607.46" y2="311.8" stroke="#000" stroke-width="3"/>
<line x1="685.20" y1="308.0" x2="685.20" y2="313.8" stroke="#000" stroke-width="3"/>
<text x="39.5" y="311.6" font-size="11.6" style="stroke:none" textLength="9.2" lengthAdjust="spacingAndGlyphs">0</text>
<text x="30.3" y="273.9" font-size="11.6" style="stroke:none" textLength="18.5" lengthAdjust="spacingAndGlyphs">10</text>
<text x="30.3" y="236.1" font-size="11.6" style="stroke:none" textLength="18.5" lengthAdjust="spacingAndGlyphs">20</text>
<text x="30.3" y="198.3" font-size="11.6" style="stroke:none" textLength="18.5" lengthAdjust="spacingAndGlyphs">30</text>
<text x="30.3" y="160.6" font-size="11.6" style="stroke:none" textLength="18.5" lengthAdjust="spacingAndGlyphs">40</text>
<text x="30.3" y="122.8" font-size="11.6" style="stroke:none" textLength="18.5" lengthAdjust="spacingAndGlyphs">50</text>
<text x="30.3" y="85.1" font-size="11.6" style="stroke:none" textLength="18.5" lengthAdjust="spacingAndGlyphs">60</text>
<text x="30.3" y="47.4" font-size="11.6" style="stroke:none" textLength="18.5" lengthAdjust="spacingAndGlyphs">70</text>
<text x="30.3" y="9.6" font-size="11.6" style="stroke:none" textLength="18.5" lengthAdjust="spacingAndGlyphs">80</text>
<text x="41.4" y="325.6" font-size="11.4" style="stroke:none" textLength="43.7" lengthAdjust="spacingAndGlyphs">0.000</text>
<text x="196.9" y="325.6" font-size="11.4" style="stroke:none" textLength="43.7" lengthAdjust="spacingAndGlyphs">0.025</text>
<text x="352.4" y="325.6" font-size="11.4" style="stroke:none" textLength="43.7" lengthAdjust="spacingAndGlyphs">0.050</text>
<text x="507.9" y="325.6" font-size="11.4" style="stroke:none" textLength="43.7" lengthAdjust="spacingAndGlyphs">0.075</text>
<text x="663.4" y="325.6" font-size="11.4" style="stroke:none" textLength="43.7" lengthAdjust="spacingAndGlyphs">0.100</text>
<text x="260.6" y="347.1" font-size="13.5" textLength="227.4" lengthAdjust="spacingAndGlyphs">Tensile strain (mm/mm)</text>
<text transform="translate(16.6,216.2) rotate(-90)" x="0" y="0" font-size="20.5" textLength="125.4" lengthAdjust="spacingAndGlyphs">Tensile stress (MPa)</text>
<line x1="168" y1="206.00" x2="214.7" y2="206.00" stroke="#000000" stroke-width="2"/>
<text x="220.2" y="210.90" font-size="12" style="stroke:none" transform="translate(220.2,0) scale(1.63,1) translate(-220.2,0)">v-PTT</text>
<line x1="168" y1="221.35" x2="214.7" y2="221.35" stroke="#d01c1c" stroke-width="2"/>
<text x="220.2" y="226.25" font-size="12" style="stroke:none" transform="translate(220.2,0) scale(1.63,1) translate(-220.2,0)">M2</text>
<line x1="168" y1="236.70" x2="214.7" y2="236.70" stroke="#1a1abf" stroke-width="2"/>
<text x="220.2" y="241.60" font-size="12" style="stroke:none" transform="translate(220.2,0) scale(1.63,1) translate(-220.2,0)">G0.5M1.5</text>
<line x1="168" y1="252.05" x2="214.7" y2="252.05" stroke="#cc22cc" stroke-width="2"/>
<text x="220.2" y="256.95" font-size="12" style="stroke:none" transform="translate(220.2,0) scale(1.63,1) translate(-220.2,0)">G1M1</text>
<line x1="168" y1="267.40" x2="214.7" y2="267.40" stroke="#1c8a1c" stroke-width="2"/>
<text x="220.2" y="272.30" font-size="12" style="stroke:none" transform="translate(220.2,0) scale(1.63,1) translate(-220.2,0)">G1.5M0.5</text>
<line x1="168" y1="282.75" x2="214.7" y2="282.75" stroke="#1a1a6e" stroke-width="2"/>
<text x="220.2" y="287.65" font-size="12" style="stroke:none" transform="translate(220.2,0) scale(1.63,1) translate(-220.2,0)">G2</text>
</svg>
</body></html>
